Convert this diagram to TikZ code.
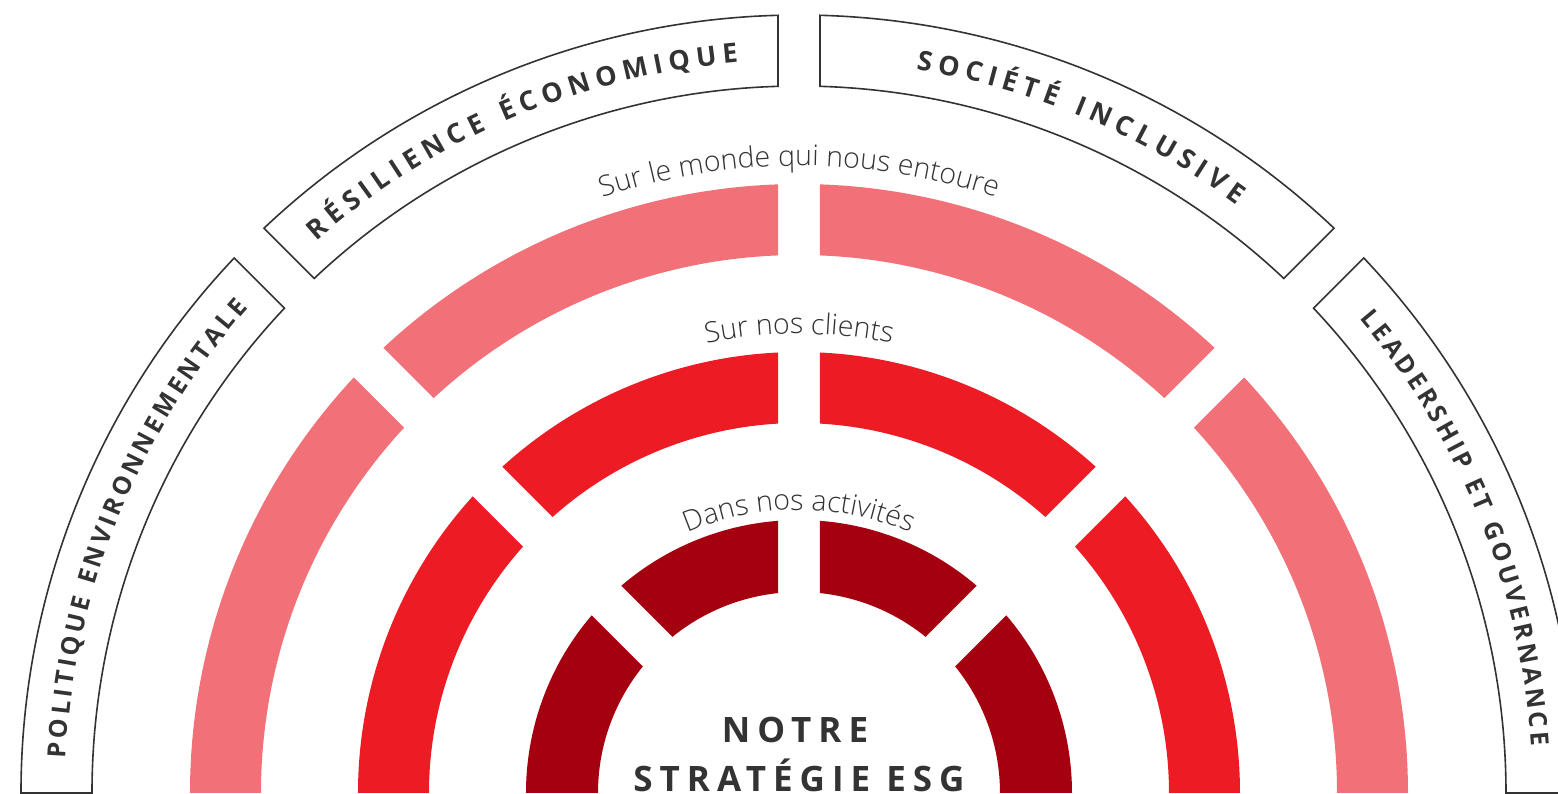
\documentclass[tikz,border=0pt]{standalone}
\usepackage{fontspec}
\setmainfont{Open Sans}
\usetikzlibrary{decorations.text}

\definecolor{ringin}{HTML}{A50010}
\definecolor{ringmid}{HTML}{ED1C24}
\definecolor{ringout}{HTML}{F27077}
\definecolor{inkgray}{HTML}{333333}

\newfontfamily\trackfont{Open Sans}[LetterSpace=20]
\IfFontExistsTF{Open Sans Light}
	{\newfontfamily\thinfont{Open Sans Light}}
	{\newfontfamily\thinfont{Open Sans}}
% side and top frame labels, the kern gives the letter spacing
\newcommand{\sidestyle}{\bfseries\fontsize{25}{27}\selectfont\kern3.5pt}
\newcommand{\topstyle}{\bfseries\fontsize{27}{29}\selectfont\kern6pt}
\newcommand{\ringstyle}{\thinfont\fontsize{28.5}{30}\selectfont}

% one piece of a ring: inner radius, outer radius, from angle, to angle, style
\newcommand{\ringpart}[5]{%
	\pgfmathsetmacro\oa{(#3<180)*asin(21/#2)}
	\pgfmathsetmacro\ia{(#3<180)*asin(21/#1)}
	\pgfmathsetmacro\ob{(#4>0)*asin(21/#2)}
	\pgfmathsetmacro\ib{(#4>0)*asin(21/#1)}
	\path[#5] ({#3-\oa}:#2) arc[start angle={#3-\oa}, end angle={#4+\ob}, radius=#2]
	-- ({#4+\ib}:#1) arc[start angle={#4+\ib}, end angle={#3-\ia}, radius=#1] -- cycle;
}

\begin{document}
\begin{tikzpicture}[
						x=1pt, y=1pt,
						frame/.style={draw=inkgray, line width=1.6pt, line join=miter},
						sidelabel/.style={decorate, decoration={text along path, text align=center,
							text color=inkgray, text={|\sidestyle|#1}}},
						toplabel/.style={decorate, decoration={text along path, text align=center,
							text color=inkgray, text={|\topstyle|#1}}},
						ringlabel/.style={decorate, decoration={text along path, text align=center,
							text color=inkgray, text={|\ringstyle|#1}}}
						]
						
						\useasboundingbox (-799,-1) rectangle (759,793);
						\clip (-799,-1) rectangle (759,793);
						
						% coloured rings
						\foreach \rin/\rout/\col in {201/273/ringin, 370/441/ringmid, 538/609/ringout}
						\foreach \from/\to in {180/135, 135/90, 90/45, 45/0}
						\ringpart{\rin}{\rout}{\from}{\to}{fill=\col};
						
						% outer frames
						\foreach \from/\to in {180/135, 135/90, 90/45, 45/0}
						\ringpart{707}{778}{\from}{\to}{frame};
						
						% frame labels
						\path[sidelabel={POLITIQUE ENVIRONNEMENTALE}]
						(188.1:734) arc[start angle=188.1, end angle=128.1, radius=734];
						\path[toplabel={RÉSILIENCE ÉCONOMIQUE}]
						(143.2:733) arc[start angle=143.2, end angle=83.2, radius=733];
						\path[toplabel={SOCIÉTÉ INCLUSIVE}]
						(97.3:733) arc[start angle=97.3, end angle=37.3, radius=733];
						\path[sidelabel={LEADERSHIP ET GOUVERNANCE}]
						(52.1:734) arc[start angle=52.1, end angle=-7.9, radius=734];
						
						% ring labels
						\path[ringlabel={Sur le monde qui nous entoure}]
						(150:627) arc[start angle=150, end angle=30, radius=627];
						\path[ringlabel={Sur nos clients}]
						(150:459) arc[start angle=150, end angle=30, radius=459];
						\path[ringlabel={Dans nos activités}]
						(150:283) arc[start angle=150, end angle=30, radius=283];
						
						% centre title
						\node[anchor=base, text=inkgray, font=\trackfont\bfseries\fontsize{35}{38}\selectfont]
						(notre) at (-4,50) {NOTRE};
						\node[anchor=base, text=inkgray, font=\trackfont\bfseries\fontsize{35}{38}\selectfont]
						(strategie) at (0,1) {STRATÉGIE ESG};
						
					\end{tikzpicture}
\end{document}
